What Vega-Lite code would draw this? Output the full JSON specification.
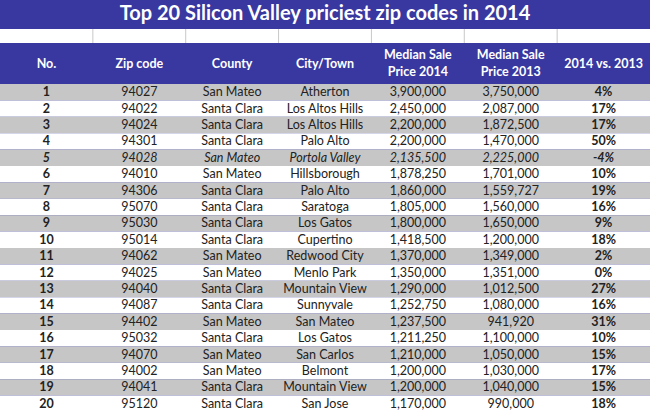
{
  "$schema": "https://vega.github.io/schema/vega-lite/v6.json",
  "width": 650,
  "height": 412,
  "autosize": {"type": "none"},
  "padding": 0,
  "background": "#3838a0",
  "config": {
    "view": {"stroke": null},
    "locale": {"number": {"decimal": ".", "thousands": ",", "grouping": [3], "currency": ["$", ""], "minus": "-"}}
  },
  "datasets": {
    "rows": [
      {"No": 1, "Zip": "94027", "County": "San Mateo", "City": "Atherton", "P2014": 3900000, "P2013": 3750000, "Change": 0.04},
      {"No": 2, "Zip": "94022", "County": "Santa Clara", "City": "Los Altos Hills", "P2014": 2450000, "P2013": 2087000, "Change": 0.17},
      {"No": 3, "Zip": "94024", "County": "Santa Clara", "City": "Los Altos Hills", "P2014": 2200000, "P2013": 1872500, "Change": 0.17},
      {"No": 4, "Zip": "94301", "County": "Santa Clara", "City": "Palo Alto", "P2014": 2200000, "P2013": 1470000, "Change": 0.50},
      {"No": 5, "Zip": "94028", "County": "San Mateo", "City": "Portola Valley", "P2014": 2135500, "P2013": 2225000, "Change": -0.04},
      {"No": 6, "Zip": "94010", "County": "San Mateo", "City": "Hillsborough", "P2014": 1878250, "P2013": 1701000, "Change": 0.10},
      {"No": 7, "Zip": "94306", "County": "Santa Clara", "City": "Palo Alto", "P2014": 1860000, "P2013": 1559727, "Change": 0.19},
      {"No": 8, "Zip": "95070", "County": "Santa Clara", "City": "Saratoga", "P2014": 1805000, "P2013": 1560000, "Change": 0.16},
      {"No": 9, "Zip": "95030", "County": "Santa Clara", "City": "Los Gatos", "P2014": 1800000, "P2013": 1650000, "Change": 0.09},
      {"No": 10, "Zip": "95014", "County": "Santa Clara", "City": "Cupertino", "P2014": 1418500, "P2013": 1200000, "Change": 0.18},
      {"No": 11, "Zip": "94062", "County": "San Mateo", "City": "Redwood City", "P2014": 1370000, "P2013": 1349000, "Change": 0.02},
      {"No": 12, "Zip": "94025", "County": "San Mateo", "City": "Menlo Park", "P2014": 1350000, "P2013": 1351000, "Change": 0.0},
      {"No": 13, "Zip": "94040", "County": "Santa Clara", "City": "Mountain View", "P2014": 1290000, "P2013": 1012500, "Change": 0.27},
      {"No": 14, "Zip": "94087", "County": "Santa Clara", "City": "Sunnyvale", "P2014": 1252750, "P2013": 1080000, "Change": 0.16},
      {"No": 15, "Zip": "94402", "County": "San Mateo", "City": "San Mateo", "P2014": 1237500, "P2013": 941920, "Change": 0.31},
      {"No": 16, "Zip": "95032", "County": "Santa Clara", "City": "Los Gatos", "P2014": 1211250, "P2013": 1100000, "Change": 0.10},
      {"No": 17, "Zip": "94070", "County": "San Mateo", "City": "San Carlos", "P2014": 1210000, "P2013": 1050000, "Change": 0.15},
      {"No": 18, "Zip": "94002", "County": "San Mateo", "City": "Belmont", "P2014": 1200000, "P2013": 1030000, "Change": 0.17},
      {"No": 19, "Zip": "94041", "County": "Santa Clara", "City": "Mountain View", "P2014": 1200000, "P2013": 1040000, "Change": 0.15},
      {"No": 20, "Zip": "95120", "County": "Santa Clara", "City": "San Jose", "P2014": 1170000, "P2013": 990000, "Change": 0.18}
    ],
    "header": [
      {"col": "No", "label": "No.", "lines": 1},
      {"col": "Zip", "label": "Zip code", "lines": 1},
      {"col": "County", "label": "County", "lines": 1},
      {"col": "City", "label": "City/Town", "lines": 1},
      {"col": "P2014", "label": "Median Sale\nPrice 2014", "lines": 2},
      {"col": "P2013", "label": "Median Sale\nPrice 2013", "lines": 2},
      {"col": "Change", "label": "2014 vs. 2013", "lines": 1}
    ],
    "titles": [{"title": "Top 20 Silicon Valley priciest zip codes in 2014"}]
  },
  "data": {"name": "rows"},
  "layer": [
    {
      "mark": {"type": "rule", "strokeWidth": 16.4},
      "encoding": {
        "y": {"field": "No", "type": "quantitative", "scale": {"domain": [-4.622, 20.5], "reverse": true, "nice": false, "zero": false}, "axis": null},
        "color": {"condition": {"test": "datum.No % 2 == 1", "value": "#c6c6c6"}, "value": "#ffffff"}
      }
    },
    {
      "data": {"name": "titles"},
      "mark": {"type": "rule", "strokeWidth": 14, "color": "#ffffff"},
      "encoding": {"y": {"datum": -2.427, "type": "quantitative"}}
    },
    {
      "data": {"name": "header"},
      "transform": [{"filter": "datum.col != 'No'"}],
      "mark": {"type": "rule", "strokeWidth": 1, "color": "#c8c8c8"},
      "encoding": {
        "x": {"field": "col", "type": "nominal", "bandPosition": 0, "scale": {"domain": ["No", "Zip", "County", "City", "P2014", "P2013", "Change"], "paddingInner": 0, "paddingOuter": 0}, "axis": null},
        "y": {"datum": -2.854, "type": "quantitative"},
        "y2": {"datum": -2.0}
      }
    },
    {
      "data": {"name": "titles"},
      "mark": {"type": "text", "font": "Lato", "fontSize": 20, "fontWeight": "bold", "color": "#ffffff", "baseline": "middle"},
      "encoding": {
        "x": {"datum": "City", "type": "nominal"},
        "y": {"datum": -3.74, "type": "quantitative"},
        "text": {"field": "title"}
      }
    },
    {
      "data": {"name": "header"},
      "transform": [{"filter": "datum.lines == 1"}],
      "mark": {"type": "text", "font": "Lato", "fontSize": 12.5, "fontWeight": "bold", "color": "#ffffff", "baseline": "middle"},
      "encoding": {
        "x": {"field": "col", "type": "nominal"},
        "y": {"datum": -0.75, "type": "quantitative"},
        "text": {"field": "label"}
      }
    },
    {
      "data": {"name": "header"},
      "transform": [{"filter": "datum.lines == 2"}],
      "mark": {"type": "text", "font": "Lato", "fontSize": 12.5, "fontWeight": "bold", "color": "#ffffff", "lineBreak": "\n", "lineHeight": 17.5, "baseline": "middle", "dy": -9},
      "encoding": {
        "x": {"field": "col", "type": "nominal"},
        "y": {"datum": -0.75, "type": "quantitative"},
        "text": {"field": "label"}
      }
    },
    {
      "mark": {"type": "text", "font": "Lato", "fontSize": 12.5, "fontWeight": "bold", "color": "#222222", "baseline": "middle", "fontStyle": {"expr": "datum.No == 5 ? 'italic' : 'normal'"}},
      "encoding": {
        "x": {"datum": "No", "type": "nominal"},
        "y": {"field": "No", "type": "quantitative"},
        "text": {"field": "No", "type": "nominal"}
      }
    },
    {
      "transform": [{"fold": ["Zip", "County", "City"], "as": ["key", "value"]}],
      "mark": {"type": "text", "font": "Lato", "fontSize": 12.5, "color": "#222222", "baseline": "middle", "fontStyle": {"expr": "datum.No == 5 ? 'italic' : 'normal'"}},
      "encoding": {
        "x": {"field": "key", "type": "nominal"},
        "y": {"field": "No", "type": "quantitative"},
        "text": {"field": "value", "type": "nominal"}
      }
    },
    {
      "mark": {"type": "text", "font": "Lato", "fontSize": 12.5, "color": "#222222", "baseline": "middle", "fontStyle": {"expr": "datum.No == 5 ? 'italic' : 'normal'"}},
      "encoding": {
        "x": {"datum": "P2014", "type": "nominal"},
        "y": {"field": "No", "type": "quantitative"},
        "text": {"field": "P2014", "type": "quantitative", "format": ","}
      }
    },
    {
      "mark": {"type": "text", "font": "Lato", "fontSize": 12.5, "color": "#222222", "baseline": "middle", "fontStyle": {"expr": "datum.No == 5 ? 'italic' : 'normal'"}},
      "encoding": {
        "x": {"datum": "P2013", "type": "nominal"},
        "y": {"field": "No", "type": "quantitative"},
        "text": {"field": "P2013", "type": "quantitative", "format": ","}
      }
    },
    {
      "mark": {"type": "text", "font": "Lato", "fontSize": 12.5, "fontWeight": "bold", "color": "#222222", "baseline": "middle", "fontStyle": {"expr": "datum.No == 5 ? 'italic' : 'normal'"}},
      "encoding": {
        "x": {"datum": "Change", "type": "nominal"},
        "y": {"field": "No", "type": "quantitative"},
        "text": {"field": "Change", "type": "quantitative", "format": ".0%"}
      }
    }
  ]
}
